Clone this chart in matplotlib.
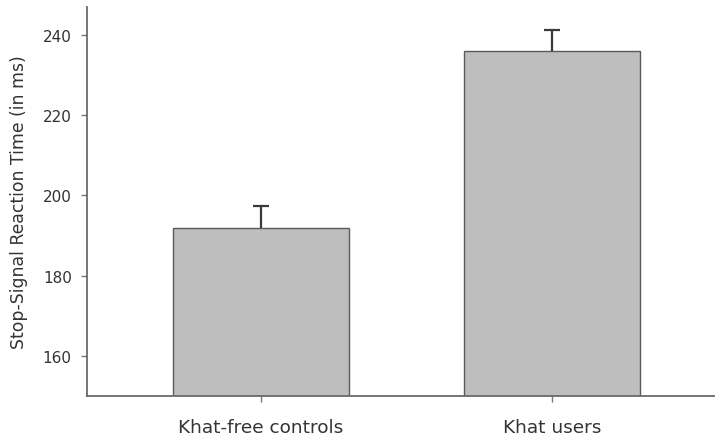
import matplotlib.pyplot as plt

# group means and standard errors (ms)
groups = ["Khat-free controls", "Khat users"]
ssrt_mean = [192, 236]
ssrt_se = [5.3, 5.3]
y_ticks = [160, 180, 200, 220, 240]

plt.rcParams['font.family'] = ['DejaVu Sans']

fig = plt.figure(figsize=(7.15, 4.39), dpi=100)
ax = fig.add_axes([0.1217, 0.0957, 0.8783, 0.8861])

x = list(range(len(groups)))
ax.bar(x, [m - 150 for m in ssrt_mean], bottom=150, width=0.605,
       color="#bebebe", edgecolor="#5a5a5a", linewidth=1.0, zorder=2)

# upper error bars only, no cap at the bar top
_, caps, _ = ax.errorbar(x, ssrt_mean, yerr=[[0] * len(ssrt_se), ssrt_se], fmt="none",
                         ecolor="#3a3a3a", elinewidth=1.6, capsize=5.5, capthick=1.6, zorder=3)
caps[0].set_visible(False)

ax.set_xlim(-0.598, 1.56)
ax.set_ylim(150, 247)
ax.set_xticks(x)
ax.set_xticklabels(groups, fontsize=13.3)
ax.set_yticks(y_ticks)

ax.set_ylabel("Stop-Signal Reaction Time (in ms)", fontsize=12.4, color="#333333")
ax.yaxis.set_label_coords(-0.094, 0.5)
ax.tick_params(axis="both", direction="out", length=4, width=1, color="#777777",
               labelcolor="#333333")
ax.tick_params(axis="x", pad=12)
ax.tick_params(axis="y", pad=7, labelsize=11)

for side in ["top", "right"]:
    ax.spines[side].set_visible(False)
for side in ["left", "bottom"]:
    ax.spines[side].set_color("#6a6a6a")
    ax.spines[side].set_linewidth(1.3)

fig.savefig("out.png", dpi=100)
